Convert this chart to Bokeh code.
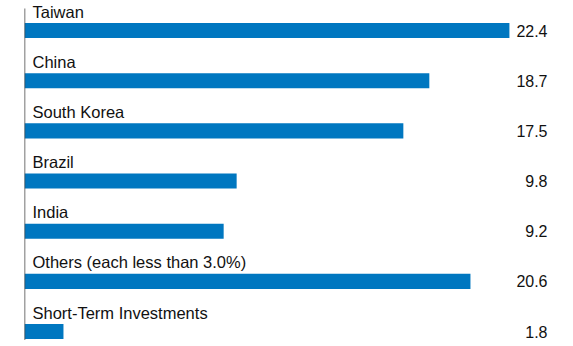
from bokeh.plotting import figure
from bokeh.models import ColumnDataSource, Range1d
from bokeh.core.properties import value
from bokeh.embed import file_html
from bokeh.resources import INLINE

categories = ["Taiwan", "China", "South Korea", "Brazil", "India",
              "Others (each less than 3.0%)", "Short-Term Investments"]
values = [22.4, 18.7, 17.5, 9.8, 9.2, 20.6, 1.8]
value_labels = ["22.4", "18.7", "17.5", "9.8", "9.2", "20.6", "1.8"]

n = len(categories)
pos = list(range(n))
src = ColumnDataSource(dict(
    cat=categories, val=values, lab=value_labels, y=pos,
    zero=[0] * n, vx=[24.16] * n,
))

p = figure(width=573, height=346, output_backend="svg", toolbar_location=None,
           x_range=Range1d(0, 25.36), y_range=Range1d(6.298, -0.598),
           min_border_left=24, min_border_right=0, min_border_top=0, min_border_bottom=0)
p.xaxis.visible = False
p.yaxis.visible = False
p.xgrid.visible = False
p.ygrid.visible = False
p.outline_line_color = None
p.background_fill_color = "white"
p.border_fill_color = "white"

p.hbar(y="y", left="zero", right="val", height=0.3, source=src,
       fill_color="#0077c0", line_color=None)

p.segment(x0=0, y0=-0.44, x1=0, y1=6.17, line_color="#444444", line_width=1.5)

p.text(x="zero", y="y", text="cat", source=src, x_offset=8, y_offset=-19,
       text_baseline="alphabetic", text_align="left",
       text_font=value("Liberation Sans"), text_font_size="16.5px", text_color="#111111")
p.text(x="vx", y="y", text="lab", source=src,
       text_baseline="middle", text_align="right",
       text_font=value("Liberation Sans"), text_font_size="16px", text_color="#111111")

open("out.html", "w").write(file_html(p, INLINE))
